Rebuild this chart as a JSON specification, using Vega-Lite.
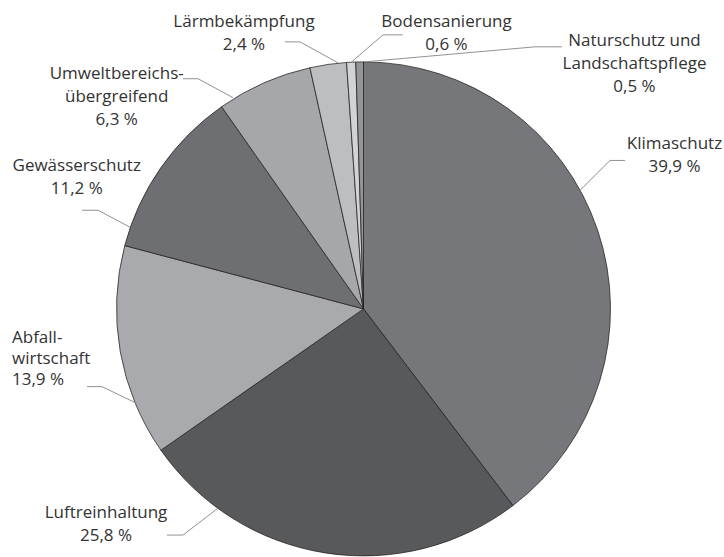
{
  "$schema": "https://vega.github.io/schema/vega-lite/v6.json",
  "width": 724,
  "height": 557,
  "autosize": {"type": "fit", "contains": "padding"},
  "padding": 0,
  "background": "white",
  "config": {"view": {"stroke": null}, "font": "Open Sans"},
  "datasets": {
    "slices": [
      {"idx": 1, "name": "Klimaschutz", "value": 39.9},
      {"idx": 2, "name": "Luftreinhaltung", "value": 25.8},
      {"idx": 3, "name": "Abfallwirtschaft", "value": 13.9},
      {"idx": 4, "name": "Gewässerschutz", "value": 11.2},
      {"idx": 5, "name": "Umweltbereichsübergreifend", "value": 6.3},
      {"idx": 6, "name": "Lärmbekämpfung", "value": 2.4},
      {"idx": 7, "name": "Bodensanierung", "value": 0.6},
      {"idx": 8, "name": "Naturschutz und Landschaftspflege", "value": 0.5}
    ],
    "labels": [
      {"text": "Lärmbekämpfung\n2,4 %", "lx": -0.4838, "ly": 1.1437, "al": "center"},
      {"text": "Bodensanierung\n0,6 %", "lx": 0.336, "ly": 1.1445, "al": "center"},
      {"text": "Naturschutz und\nLandschaftspflege\n0,5 %", "lx": 1.0972, "ly": 1.0688, "al": "center"},
      {"text": "Klimaschutz\n39,9 %", "lx": 1.2591, "ly": 0.6478, "al": "center"},
      {"text": "Umweltbereichs-\nübergreifend\n6,3 %", "lx": -0.9992, "ly": 0.934, "al": "center"},
      {"text": "Gewässerschutz\n11,2 %", "lx": -1.1611, "ly": 0.56, "al": "center"},
      {"text": "Abfall-\nwirtschaft\n13,9 %", "lx": -1.4231, "ly": -0.1405, "al": "left"},
      {"text": "Luftreinhaltung\n25,8 %", "lx": -1.0425, "ly": -0.8514, "al": "center"}
    ],
    "leaders": [
      {"id": "L", "p": 1, "lx": -0.3178, "ly": 1.085},
      {"id": "L", "p": 2, "lx": -0.2571, "ly": 1.085},
      {"id": "L", "p": 3, "lx": -0.1032, "ly": 1.0},
      {"id": "B", "p": 1, "lx": 0.1587, "ly": 1.1134},
      {"id": "B", "p": 2, "lx": 0.0789, "ly": 1.1134},
      {"id": "B", "p": 3, "lx": -0.0478, "ly": 1.004},
      {"id": "N", "p": 1, "lx": 0.8036, "ly": 1.0648},
      {"id": "N", "p": 2, "lx": 0.6943, "ly": 1.0648},
      {"id": "N", "p": 3, "lx": 0.0061, "ly": 1.004},
      {"id": "K", "p": 1, "lx": 1.0587, "ly": 0.6032},
      {"id": "K", "p": 2, "lx": 0.998, "ly": 0.6032},
      {"id": "K", "p": 3, "lx": 0.8765, "ly": 0.4818},
      {"id": "U", "p": 1, "lx": -0.7308, "ly": 0.9352},
      {"id": "U", "p": 2, "lx": -0.67, "ly": 0.9352},
      {"id": "U", "p": 3, "lx": -0.5283, "ly": 0.8583},
      {"id": "G", "p": 1, "lx": -1.1397, "ly": 0.4008},
      {"id": "G", "p": 2, "lx": -1.0749, "ly": 0.4008},
      {"id": "G", "p": 3, "lx": -0.9453, "ly": 0.332},
      {"id": "A", "p": 1, "lx": -1.1194, "ly": -0.3158},
      {"id": "A", "p": 2, "lx": -1.0587, "ly": -0.3158},
      {"id": "A", "p": 3, "lx": -0.917, "ly": -0.3846},
      {"id": "F", "p": 1, "lx": -0.7955, "ly": -0.919},
      {"id": "F", "p": 2, "lx": -0.7308, "ly": -0.919},
      {"id": "F", "p": 3, "lx": -0.5891, "ly": -0.8097}
    ]
  },
  "layer": [
    {
      "data": {"name": "slices"},
      "mark": {"type": "arc", "outerRadius": 247, "stroke": "#231f20", "strokeWidth": 0.75},
      "encoding": {
        "x": {"datum": 0, "type": "quantitative", "scale": {"domain": [-1.4717, 1.4595], "nice": false, "zero": false}, "axis": null},
        "y": {"datum": 0, "type": "quantitative", "scale": {"domain": [-1.0, 1.2551], "nice": false, "zero": false}, "axis": null},
        "theta": {"field": "value", "type": "quantitative", "stack": true},
        "order": {"field": "idx", "type": "quantitative"},
        "color": {
          "field": "name",
          "type": "nominal",
          "legend": null,
          "scale": {
            "domain": ["Klimaschutz", "Luftreinhaltung", "Abfallwirtschaft", "Gewässerschutz", "Umweltbereichsübergreifend", "Lärmbekämpfung", "Bodensanierung", "Naturschutz und Landschaftspflege"],
            "range": ["#76777a", "#58595b", "#a9aaad", "#6e6f72", "#a6a7aa", "#bdbec0", "#d2d3d5", "#939598"]
          }
        }
      }
    },
    {
      "data": {"name": "leaders"},
      "mark": {"type": "line", "stroke": "#909193", "strokeWidth": 1},
      "encoding": {
        "x": {"field": "lx", "type": "quantitative", "axis": null},
        "y": {"field": "ly", "type": "quantitative", "axis": null},
        "detail": {"field": "id", "type": "nominal"},
        "order": {"field": "p", "type": "quantitative"}
      }
    },
    {
      "data": {"name": "labels"},
      "transform": [{"filter": "datum.al == 'center'"}],
      "mark": {"type": "text", "align": "center", "baseline": "alphabetic", "lineBreak": "\n", "fontSize": 17, "lineHeight": 23, "color": "#333333"},
      "encoding": {
        "x": {"field": "lx", "type": "quantitative", "axis": null},
        "y": {"field": "ly", "type": "quantitative", "axis": null},
        "text": {"field": "text", "type": "nominal"}
      }
    },
    {
      "data": {"name": "labels"},
      "transform": [{"filter": "datum.al == 'left'"}],
      "mark": {"type": "text", "align": "left", "baseline": "alphabetic", "lineBreak": "\n", "fontSize": 17, "lineHeight": 21, "color": "#333333"},
      "encoding": {
        "x": {"field": "lx", "type": "quantitative", "axis": null},
        "y": {"field": "ly", "type": "quantitative", "axis": null},
        "text": {"field": "text", "type": "nominal"}
      }
    }
  ]
}
